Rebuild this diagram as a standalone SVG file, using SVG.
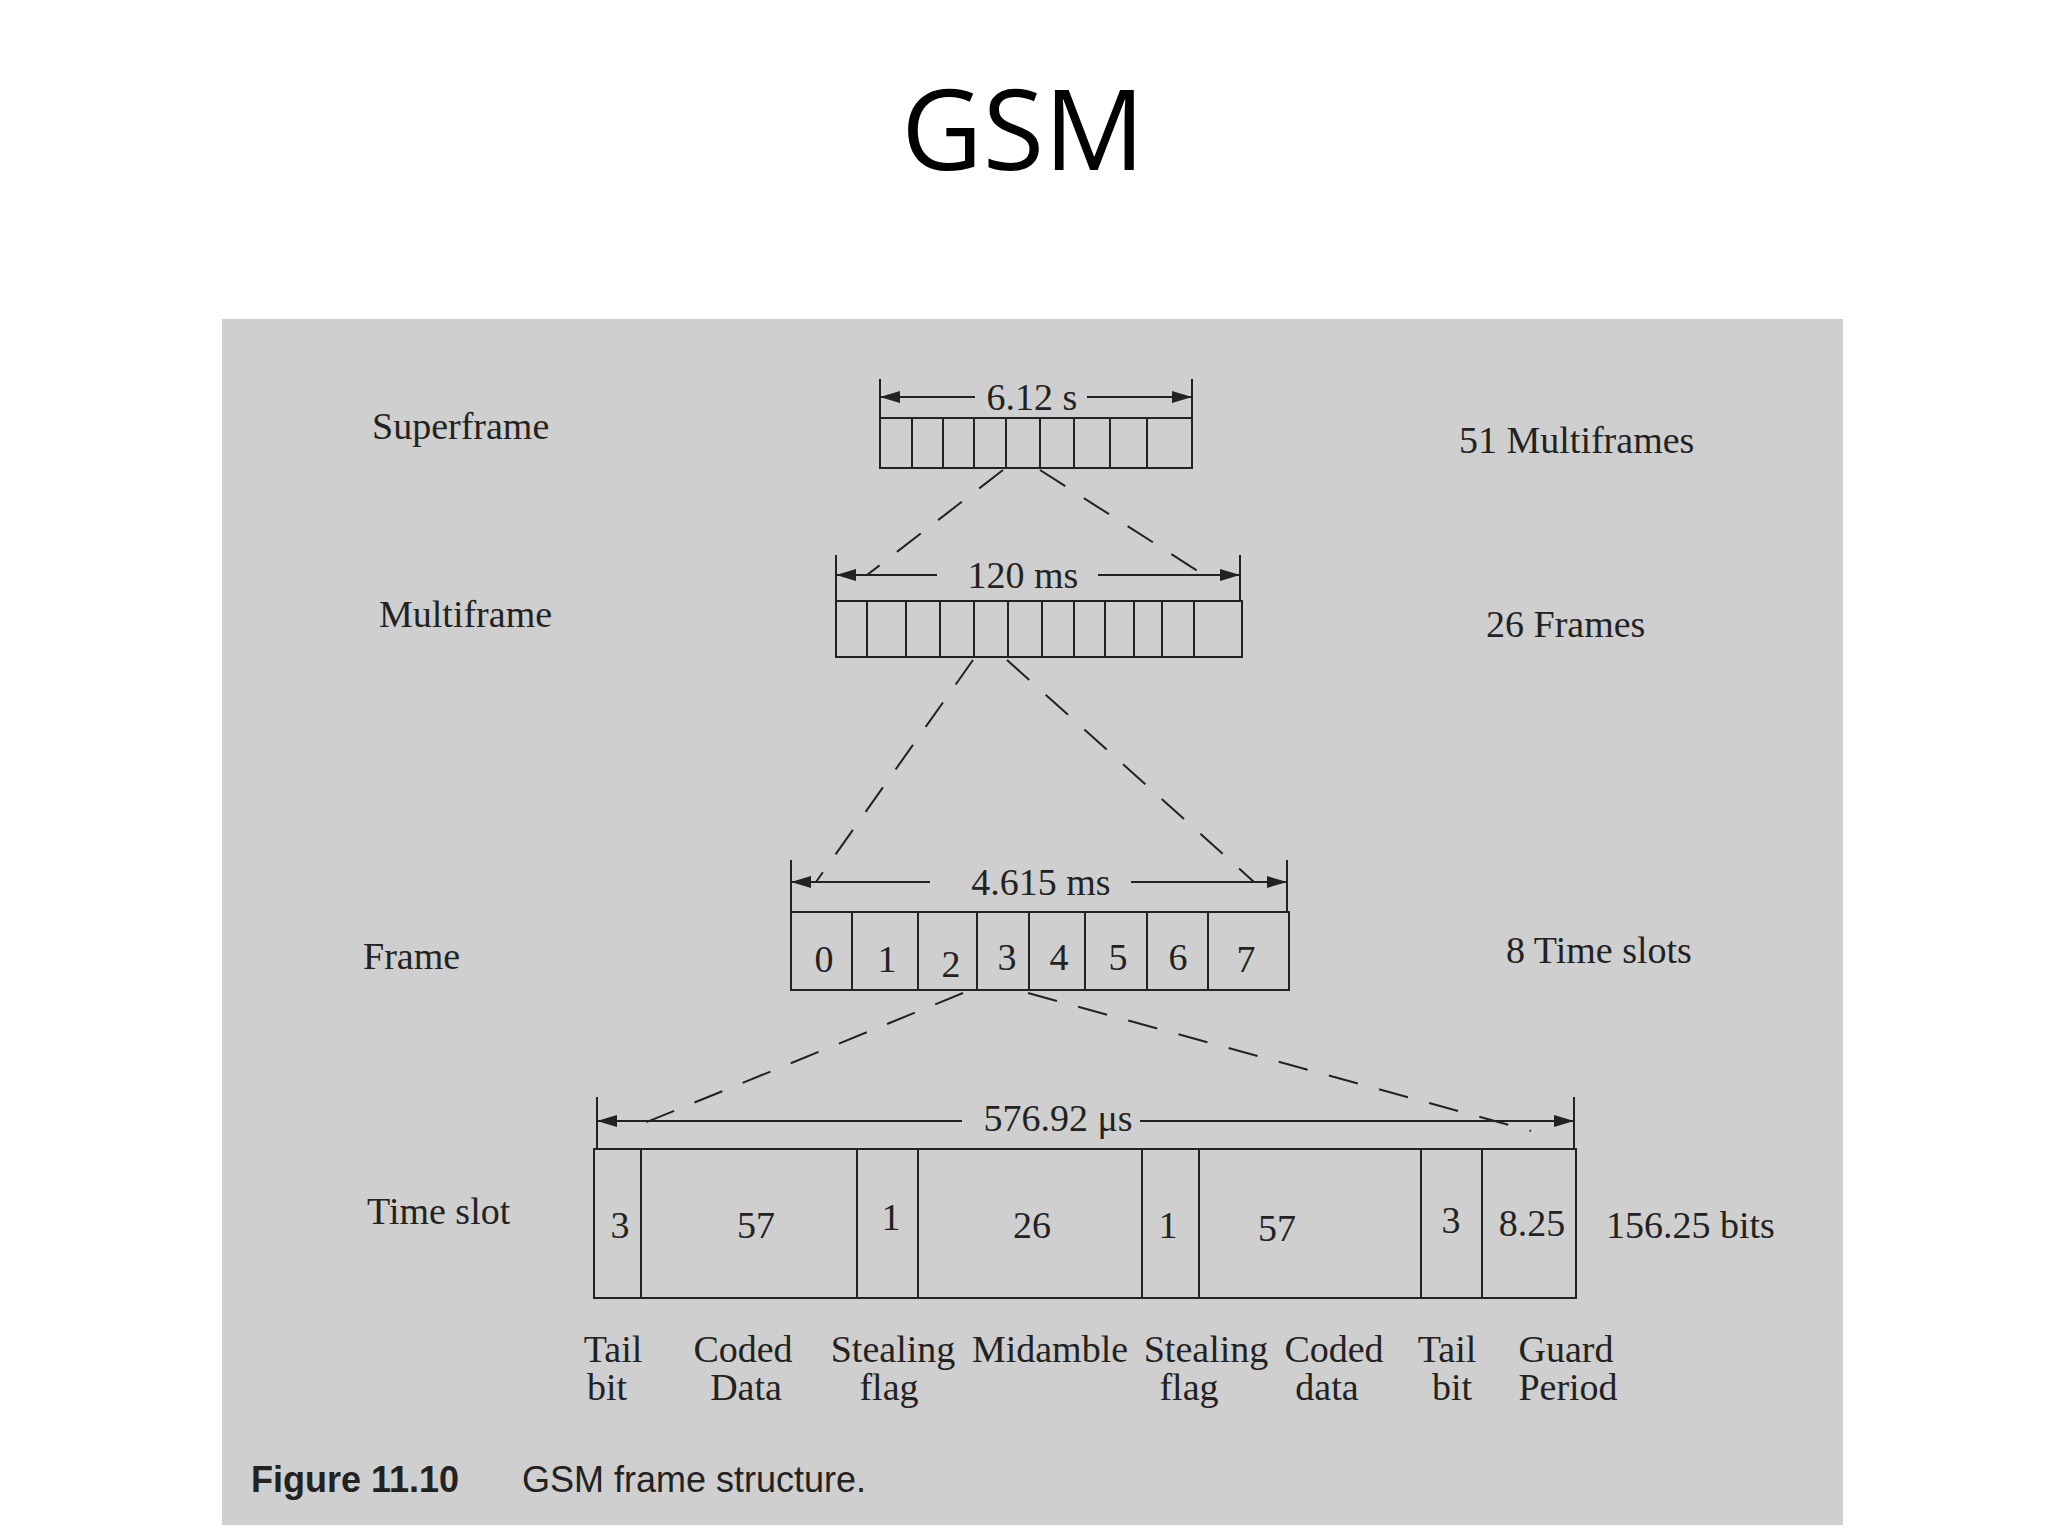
<svg xmlns="http://www.w3.org/2000/svg" width="2048" height="1536" viewBox="0 0 2048 1536">
<style>
.t{font-family:"Liberation Serif",serif;font-size:38px;fill:#222}
.m{text-anchor:middle}
.b{fill:none;stroke:#222;stroke-width:2}
.d{stroke:#222;stroke-width:2;stroke-dasharray:30 22;fill:none}
.a{stroke:#222;stroke-width:2}
.cap{font-family:"Liberation Sans",sans-serif;font-size:36px;fill:#222}
</style>
<defs>
<marker id="ah" viewBox="0 0 20 12" refX="20" refY="6" markerWidth="20" markerHeight="12" markerUnits="userSpaceOnUse" orient="auto-start-reverse"><path d="M0,0L20,6L0,12z" fill="#222"/></marker>
</defs>
<rect width="2048" height="1536" fill="#fff"/>
<text x="1023" y="170" text-anchor="middle" font-family="'Open Sans',sans-serif" font-size="112" fill="#000">GSM</text>
<rect x="222" y="319" width="1621" height="1206" fill="#cfcfcf"/>

<g id="connectors">
<path class="d" d="M1003,470L867,575M1040,470L1204,575M973,660L816,882M1007,660L1254,882M963,993L637,1126M1028,993L1531,1131"/>
<path class="a" d="M880,379V418M1192,379V418M836,555V601M1240,555V601M791,860V912M1287,860V912M597,1097V1149M1574,1097V1149"/>
<path class="a" marker-start="url(#ah)" d="M880,397H975"/><path class="a" marker-end="url(#ah)" d="M1087,397H1192"/>
<path class="a" marker-start="url(#ah)" d="M836,575H937"/><path class="a" marker-end="url(#ah)" d="M1098,575H1240"/>
<path class="a" marker-start="url(#ah)" d="M791,882H930"/><path class="a" marker-end="url(#ah)" d="M1131,882H1287"/>
<path class="a" marker-start="url(#ah)" d="M597,1121H962"/><path class="a" marker-end="url(#ah)" d="M1140,1121H1574"/>
</g>

<g id="superframe">
<text class="t" x="372" y="439">Superframe</text>
<text class="t m" x="1032" y="410" font-size="34">6.12 s</text>
<rect class="b" x="880" y="418" width="312" height="50"/>
<path class="b" d="M912,418V468M943,418V468M974,418V468M1006,418V468M1040,418V468M1074,418V468M1110,418V468M1147,418V468"/>
<text class="t" x="1459" y="453">51 Multiframes</text>
</g>

<g id="multiframe">
<text class="t" x="379" y="627">Multiframe</text>
<text class="t m" x="1023" y="588" font-size="34">120 ms</text>
<rect class="b" x="836" y="601" width="406" height="56"/>
<path class="b" d="M867,601V657M906,601V657M940,601V657M974,601V657M1008,601V657M1042,601V657M1074,601V657M1105,601V657M1134,601V657M1162,601V657M1194,601V657"/>
<text class="t" x="1486" y="637">26 Frames</text>
</g>

<g id="frame">
<text class="t" x="363" y="969">Frame</text>
<text class="t m" x="1041" y="895" font-size="34">4.615 ms</text>
<rect class="b" x="791" y="912" width="498" height="78"/>
<path class="b" d="M852,912V990M918,912V990M977,912V990M1029,912V990M1085,912V990M1147,912V990M1208,912V990"/>
<g class="t m" font-size="36">
<text x="824" y="972">0</text><text x="887" y="972">1</text><text x="951" y="977">2</text><text x="1007" y="970">3</text><text x="1059" y="970">4</text><text x="1118" y="970">5</text><text x="1178" y="970">6</text><text x="1246" y="972">7</text>
</g>
<text class="t" x="1506" y="963">8 Time slots</text>
</g>

<g id="timeslot">
<text class="t" x="367" y="1224">Time slot</text>
<text class="t m" x="1058" y="1131" font-size="36">576.92 μs</text>
<rect class="b" x="594" y="1149" width="982" height="149"/>
<path class="b" d="M641,1149V1298M857,1149V1298M918,1149V1298M1142,1149V1298M1199,1149V1298M1421,1149V1298M1482,1149V1298"/>
<g class="t m" font-size="36">
<text x="620" y="1238">3</text><text x="756" y="1238">57</text><text x="891" y="1230">1</text><text x="1032" y="1238">26</text><text x="1168" y="1238">1</text><text x="1277" y="1241">57</text><text x="1451" y="1233">3</text><text x="1532" y="1236">8.25</text>
</g>
<text class="t" x="1606" y="1238">156.25 bits</text>
<g class="t m">
<text x="613" y="1362">Tail</text><text x="607" y="1400">bit</text>
<text x="743" y="1362">Coded</text><text x="746" y="1400">Data</text>
<text x="893" y="1362">Stealing</text><text x="889" y="1400">flag</text>
<text x="1050" y="1362">Midamble</text>
<text x="1206" y="1362">Stealing</text><text x="1189" y="1400">flag</text>
<text x="1334" y="1362">Coded</text><text x="1327" y="1400">data</text>
<text x="1447" y="1362">Tail</text><text x="1452" y="1400">bit</text>
<text x="1566" y="1362">Guard</text><text x="1568" y="1400">Period</text>
</g>
</g>

<text class="cap" x="251" y="1492" font-weight="bold">Figure 11.10</text>
<text class="cap" x="522" y="1492">GSM frame structure.</text>
</svg>
